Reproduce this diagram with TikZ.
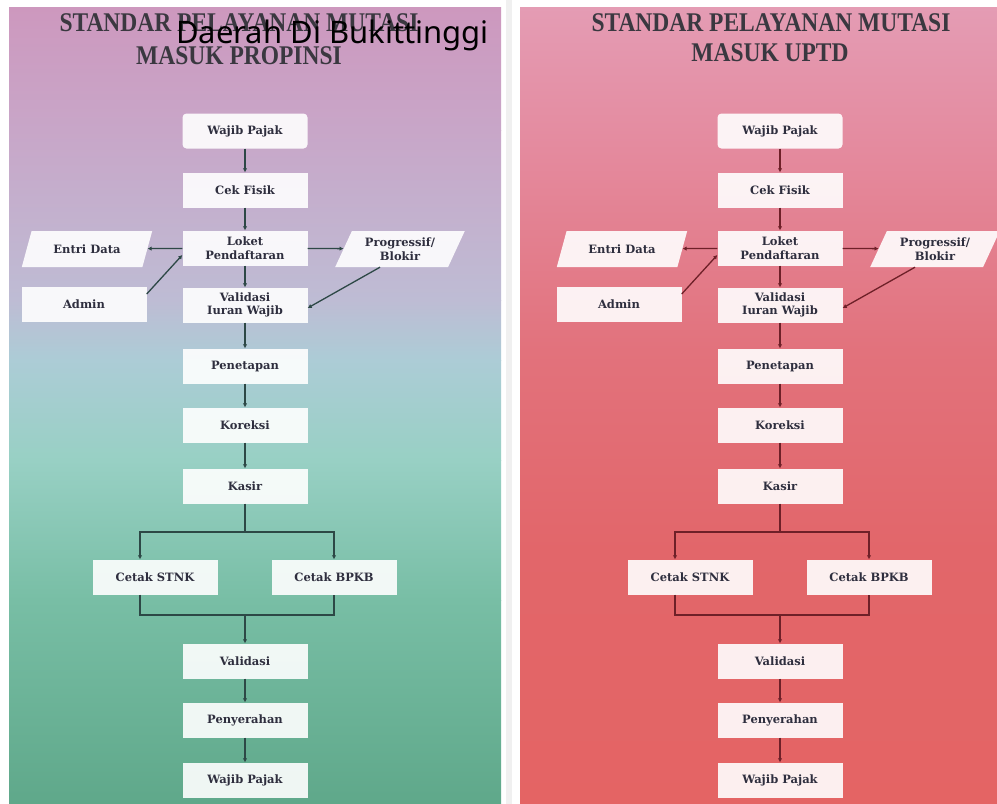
\documentclass[tikz,border=0pt]{standalone}
\usepackage{fontspec}
\usetikzlibrary{arrows.meta,calc,shapes.geometric}
\newfontfamily\judulfont{Liberation Serif}
\newfontfamily\kotakfont{DejaVu Serif}
\newfontfamily\atasfont{Noto Sans}
\definecolor{ungu1}{RGB}{205,152,190}
\definecolor{ungu2}{RGB}{200,166,200}
\definecolor{ungu3}{RGB}{190,188,212}
\definecolor{biru1}{RGB}{172,204,214}
\definecolor{hijau1}{RGB}{152,208,196}
\definecolor{hijau2}{RGB}{120,190,165}
\definecolor{hijau3}{RGB}{95,168,138}
\definecolor{merah1}{RGB}{228,156,180}
\definecolor{merah2}{RGB}{228,138,158}
\definecolor{merah3}{RGB}{226,114,124}
\definecolor{merah4}{RGB}{226,102,106}
\definecolor{merah5}{RGB}{228,100,100}
\definecolor{garishijau}{RGB}{45,72,70}
\definecolor{garismerah}{RGB}{110,32,40}
\definecolor{teksgelap}{RGB}{46,46,62}
\definecolor{judulgelap}{RGB}{58,56,64}
\tikzset{
  kotak/.style={rectangle, fill=white, fill opacity=0.9, text opacity=1, text=teksgelap,
    font=\kotakfont\bfseries\fontsize{11.5}{13.5}\selectfont, align=center,
    minimum width=125pt, minimum height=35pt, inner sep=2pt},
  jajar/.style={kotak, trapezium, trapezium left angle=64, trapezium right angle=116,
    trapezium stretches=true, minimum width=131pt, minimum height=36pt},
  judul/.style={text=judulgelap, font=\judulfont\bfseries\fontsize{27}{30}\selectfont, inner sep=0pt}
}
% one flow chart: #1 name prefix, #2 shift, #3 line colour
\newcommand{\alur}[3]{%
\begin{scope}[xshift=#2, garis/.style={draw=#3, line width=1.3pt},
    panah/.style={garis, -{Latex[length=4pt,width=4.5pt]}}]
  \node[kotak, rounded corners=4pt] (#1wp) at (245,131) {Wajib Pajak};
  \node[kotak] (#1cek) at (245,190) {Cek Fisik};
  \node[kotak] (#1loket) at (245,248) {Loket\\Pendaftaran};
  \node[jajar] (#1entri) at (87,249) {Entri Data};
  \node[jajar] (#1prog) at (400,249) {Progressif/\\Blokir};
  \node[kotak] (#1admin) at (84,304) {Admin};
  \node[kotak] (#1valid) at (245,305) {Validasi\\Iuran Wajib};
  \node[kotak] (#1tetap) at (245,366) {Penetapan};
  \node[kotak] (#1koreksi) at (245,425) {Koreksi};
  \node[kotak] (#1kasir) at (245,486) {Kasir};
  \node[kotak] (#1stnk) at (155,577) {Cetak STNK};
  \node[kotak] (#1bpkb) at (334,577) {Cetak BPKB};
  \node[kotak] (#1val2) at (245,661) {Validasi};
  \node[kotak] (#1serah) at (245,720) {Penyerahan};
  \node[kotak] (#1wp2) at (245,780) {Wajib Pajak};
  \coordinate (#1cabang) at (245,532);
  \coordinate (#1gabung) at (245,615);
  %
  \draw[panah] (#1wp) -- (#1cek);
  \draw[panah] (#1cek) -- (#1loket);
  \draw[panah] (#1loket) -- (#1entri);
  \draw[panah] (#1loket) -- (#1prog);
  \draw[panah] ([yshift=10pt]#1admin.east) -- ([yshift=-7pt]#1loket.west);
  \draw[panah] ([xshift=-20pt]#1prog.south) -- ([yshift=-3pt]#1valid.east);
  \draw[panah] (#1loket) -- (#1valid);
  \draw[panah] (#1valid) -- (#1tetap);
  \draw[panah] (#1tetap) -- (#1koreksi);
  \draw[panah] (#1koreksi) -- (#1kasir);
  \draw[garis] (#1kasir) -- (#1cabang);
  \draw[panah] (#1cabang) -| ([xshift=-15pt]#1stnk.north);
  \draw[panah] (#1cabang) -| (#1bpkb.north);
  \draw[garis] ([xshift=-15pt]#1stnk.south) |- (#1gabung) -| (#1bpkb.south);
  \draw[panah] (#1gabung) -- (#1val2);
  \draw[panah] (#1val2) -- (#1serah);
  \draw[panah] (#1serah) -- (#1wp2);
\end{scope}}

\begin{document}
\begin{tikzpicture}[x=1pt, y=-1pt]
  \useasboundingbox (0,0) rectangle (997,804);
  \fill[white] (0,0) rectangle (997,804);

  % left sheet
  \shade[top color=ungu1, bottom color=ungu2] (9,7) rectangle (501,130);
  \shade[top color=ungu2, bottom color=ungu3] (9,130) rectangle (501,300);
  \shade[top color=ungu3, bottom color=biru1] (9,300) rectangle (501,360);
  \shade[top color=biru1, bottom color=hijau1] (9,360) rectangle (501,460);
  \shade[top color=hijau1, bottom color=hijau2] (9,460) rectangle (501,600);
  \shade[top color=hijau2, bottom color=hijau3] (9,600) rectangle (501,804);

  % right sheet
  \shade[top color=merah1, bottom color=merah2] (520,7) rectangle (997,150);
  \shade[top color=merah2, bottom color=merah3] (520,150) rectangle (997,350);
  \shade[top color=merah3, bottom color=merah4] (520,350) rectangle (997,550);
  \shade[top color=merah4, bottom color=merah5] (520,550) rectangle (997,804);
  \fill[black!6] (506,0) rectangle (512,804);

  % titles
  \node[judul] (judulkiri1) at (239,23) {\scalebox{0.87}[1]{STANDAR PELAYANAN MUTASI}};
  \node[judul] (judulkiri2) at (239,56) {\scalebox{0.87}[1]{MASUK PROPINSI}};
  \node[judul] (judulkanan1) at (771,23) {\scalebox{0.87}[1]{STANDAR PELAYANAN MUTASI}};
  \node[judul] (judulkanan2) at (770,53) {\scalebox{0.87}[1]{MASUK UPTD}};

  \alur{ki}{0pt}{garishijau}
  \alur{ka}{535pt}{garismerah}

  \node[anchor=base west, inner sep=0pt, font=\atasfont\fontsize{31}{33}\selectfont]
    (daerah) at (176,43) {Daerah Di Bukittinggi};
\end{tikzpicture}
\end{document}
